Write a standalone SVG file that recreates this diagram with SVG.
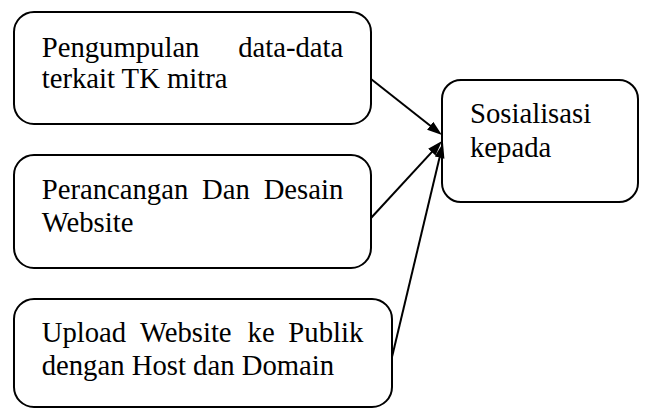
<svg xmlns="http://www.w3.org/2000/svg" width="645" height="408" viewBox="0 0 645 408">
<style>
.box{fill:#fff;stroke:#000;stroke-width:2}
.t{font-family:"Liberation Serif","Times New Roman",serif;font-size:28.7px;fill:#000}
.c{stroke:#000;stroke-width:2;fill:none}
</style>
<defs>
<marker id="ah" markerUnits="userSpaceOnUse" markerWidth="16" markerHeight="11" refX="5" refY="5" orient="auto">
<path d="M0,0 L15,5 L0,10 z" fill="#000"/>
</marker>
</defs>
<rect width="645" height="408" fill="#fff"/>
<g id="n1">
<rect class="box" x="14" y="12" width="357" height="112" rx="20"/>
<text class="t" y="56.5"><tspan x="41.7">Pengumpulan</tspan><tspan x="343.3" text-anchor="end">data-data</tspan></text>
<text class="t" x="41.7" y="88">terkait TK mitra</text>
</g>
<g id="n2">
<rect class="box" x="14" y="155" width="357" height="113" rx="20"/>
<text class="t" y="198.5"><tspan x="41.7">Perancangan</tspan><tspan x="202">Dan</tspan><tspan x="343.3" text-anchor="end">Desain</tspan></text>
<text class="t" x="41.7" y="232">Website</text>
</g>
<g id="n3">
<rect class="box" x="14" y="299" width="378" height="108" rx="20"/>
<text class="t" y="342"><tspan x="41.7">Upload</tspan><tspan x="139.9">Website</tspan><tspan x="247.6">ke</tspan><tspan x="363.3" text-anchor="end">Publik</tspan></text>
<text class="t" x="41.7" y="375">dengan Host dan Domain</text>
</g>
<g id="n4">
<rect class="box" x="442" y="80" width="196" height="122" rx="19"/>
<text class="t" x="470" y="122.5">Sosialisasi</text>
<text class="t" x="470" y="156.5">kepada</text>
</g>
<g id="connectors">
<line class="c" x1="371" y1="79" x2="434.1" y2="128.8" marker-end="url(#ah)"/>
<line class="c" x1="371" y1="218" x2="435.2" y2="148.4" marker-end="url(#ah)"/>
<line class="c" x1="392" y1="357" x2="440.7" y2="152.7" marker-end="url(#ah)"/>
</g>
</svg>
